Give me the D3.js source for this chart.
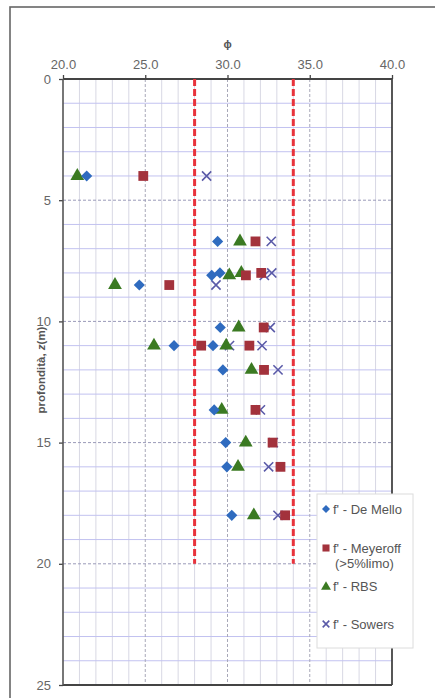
<!DOCTYPE html>
<html><head><meta charset="utf-8">
<script src="https://cdn.jsdelivr.net/npm/d3@7/dist/d3.min.js"></script>
<style>html,body{margin:0;padding:0;background:#fff;}svg{display:block;font-family:"Liberation Sans",Arial,sans-serif;}</style>
</head><body>
<svg id="chart" width="435" height="698"></svg>
<script>
// sample depths (m)
const depth = [4, 6.7, 8.0, 8.1, 8.5, 10.25, 11.0, 11.0, 12.0, 13.65, 15.0, 16.0, 18.0];
// friction angle per method, aligned with depth
const deMello  = [21.44, 29.40, 29.54, 29.04, 24.64, 29.56, 26.75, 29.12, 29.72, 29.19, 29.89, 29.96, 30.26];
const meyeroff = [24.88, 31.70, 32.05, 31.12, 26.46, 32.20, 28.40, 31.33, 32.22, 31.70, 32.74, 33.22, 33.50];
const rbs      = [20.87, 30.76, 30.84, 30.11, 23.16, 30.68, 25.53, 29.92, 31.46, 29.65, 31.11, 30.64, 31.60];
const sowers   = [28.73, 32.66, 32.69, 32.24, 29.30, 32.60, 30.12, 32.10, 33.07, 32.00, 32.78, 32.50, 33.07];
// range limits (dashed red lines)
const limits = [28, 34];
const limitDepth = [0, 20];
const xTicks = [20, 25, 30, 35, 40];
const yTicks = [0, 5, 10, 15, 20, 25];
const seriesNames = ["f' - De Mello", "f' - Meyeroff", "f' - RBS", "f' - Sowers"];

const svg = d3.select("#chart");
const x = d3.scaleLinear().domain([20, 40]).range([63, 392]);
const y = d3.scaleLinear().domain([0, 25]).range([79, 685]);

// outer frame
svg.append("rect").attr("x", 10).attr("y", 7).attr("width", 440).attr("height", 710)
  .attr("fill", "none").attr("stroke", "#666").attr("stroke-width", 1.6);

const g = svg.append("g");
// minor grid
d3.range(21, 40).filter(v => v % 5 !== 0).forEach(v => {
  g.append("line").attr("x1", x(v)).attr("x2", x(v)).attr("y1", y(0)).attr("y2", y(25))
    .attr("stroke", "#d8d8e4").attr("stroke-width", 1);
});
d3.range(1, 25).filter(v => v % 5 !== 0).forEach(v => {
  g.append("line").attr("x1", x(20)).attr("x2", x(40)).attr("y1", y(v)).attr("y2", y(v))
    .attr("stroke", "#c2c2f0").attr("stroke-width", 1);
});
// major grid
[25, 30, 35].forEach(v => {
  g.append("line").attr("x1", x(v)).attr("x2", x(v)).attr("y1", y(0)).attr("y2", y(25))
    .attr("stroke", "#a8a8b8").attr("stroke-width", 1).attr("stroke-dasharray", "3,2");
});
[5, 10, 15, 20].forEach(v => {
  g.append("line").attr("x1", x(20)).attr("x2", x(40)).attr("y1", y(v)).attr("y2", y(v))
    .attr("stroke", "#9a9ab8").attr("stroke-width", 1).attr("stroke-dasharray", "3,2");
});

// axes
const xAxis = d3.axisTop(x).tickValues(xTicks).tickFormat(d3.format(".1f")).tickSize(4).tickPadding(6);
const yAxis = d3.axisLeft(y).tickValues(yTicks).tickFormat(d3.format("d")).tickSize(4).tickPadding(8);
const gx = svg.append("g").attr("transform", `translate(0,${y(0)})`).call(xAxis);
const gy = svg.append("g").attr("transform", `translate(${x(20)},0)`).call(yAxis);
[gx, gy].forEach(a => {
  a.select(".domain").remove();
  a.selectAll(".tick line").attr("stroke", "#444").attr("stroke-width", 1.3);
  a.selectAll(".tick text").attr("fill", "#666").style("font-size", "13px").style("font-family", "Liberation Sans, Arial, sans-serif");
});
// plot border
svg.append("line").attr("x1", x(20)).attr("x2", x(40)).attr("y1", y(0)).attr("y2", y(0)).attr("stroke", "#444").attr("stroke-width", 2);
svg.append("line").attr("x1", x(20)).attr("x2", x(40)).attr("y1", y(25)).attr("y2", y(25)).attr("stroke", "#444").attr("stroke-width", 2);
svg.append("line").attr("x1", x(20)).attr("x2", x(20)).attr("y1", y(0)).attr("y2", y(25)).attr("stroke", "#555").attr("stroke-width", 1.6);
svg.append("line").attr("x1", x(40)).attr("x2", x(40)).attr("y1", y(0)).attr("y2", y(25)).attr("stroke", "#444").attr("stroke-width", 1.8);

// axis titles
svg.append("text").attr("x", x(30)).attr("y", 48).attr("text-anchor", "middle")
  .attr("fill", "#555").style("font-size", "11px").style("font-weight", "bold").text("ϕ");
const yt = svg.append("text").attr("transform", `translate(45,370) rotate(-90)`).attr("text-anchor", "middle")
  .attr("fill", "#555").style("font-size", "11.5px").style("font-weight", "bold");
yt.append("tspan").text("profondità, ");
yt.append("tspan").style("font-style", "italic").text("z");
yt.append("tspan").text("(m)");

// limit lines
limits.forEach(v => {
  svg.append("line").attr("x1", x(v)).attr("x2", x(v)).attr("y1", y(limitDepth[0])).attr("y2", y(limitDepth[1]))
    .attr("stroke", "#e8333c").attr("stroke-width", 3).attr("stroke-dasharray", "7,3");
});

// markers
const colors = ["#2f6bbf", "#a3323c", "#3b7a22", "#5a5aa8"];
function marker(sel, i, cx, cy, k) {
  k = k || 1;
  if (i === 0) {
    sel.append("path").attr("d", d3.symbol().type(d3.symbolSquare).size(62 * k * k)())
      .attr("transform", `translate(${cx},${cy}) rotate(45)`).attr("fill", colors[0]);
  } else if (i === 1) {
    sel.append("path").attr("d", d3.symbol().type(d3.symbolSquare).size(96 * k * k)())
      .attr("transform", `translate(${cx},${cy})`).attr("fill", colors[1]);
  } else if (i === 2) {
    sel.append("path").attr("d", d3.symbol().type(d3.symbolTriangle).size(82 * k * k)())
      .attr("transform", `translate(${cx},${cy})`).attr("fill", colors[2]);
  } else {
    const s = 4.6 * k;
    sel.append("path").attr("d", `M${cx - s},${cy - s}L${cx + s},${cy + s}M${cx - s},${cy + s}L${cx + s},${cy - s}`)
      .attr("stroke", colors[3]).attr("stroke-width", 1.6).attr("fill", "none");
  }
}
const allSeries = [deMello, meyeroff, rbs, sowers];
const mg = svg.append("g");
[3, 2, 0, 1].forEach(i => {
  allSeries[i].forEach((v, k) => marker(mg, i, x(v), y(depth[k])));
});

// legend
const lg = svg.append("g");
lg.append("rect").attr("x", 317).attr("y", 494).attr("width", 96).attr("height", 154)
  .attr("fill", "#fff").attr("stroke", "#dcdcdc").attr("stroke-width", 1);
const legY = [509, 548, 587, 624];
const legTextY = [514, 553, 591, 629];
seriesNames.forEach((n, i) => {
  marker(lg, i, 326, legY[i], 0.72);
  lg.append("text").attr("x", 333).attr("y", legTextY[i]).attr("fill", "#555").style("font-size", "13px").text(n);
});
lg.append("text").attr("x", 335).attr("y", 568).attr("fill", "#555").style("font-size", "13px").text("(>5%limo)");
</script>
</body></html>
